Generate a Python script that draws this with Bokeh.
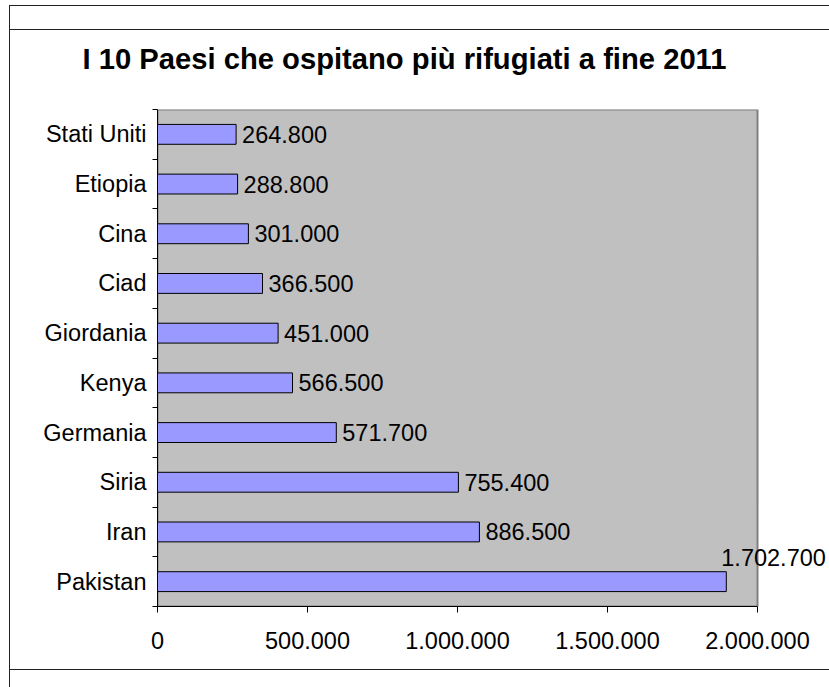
from bokeh.plotting import figure
from bokeh.models import ColumnDataSource, FixedTicker, LabelSet, Range1d, Title
from bokeh.core.properties import value
from bokeh.embed import file_html
from bokeh.resources import INLINE

# ---- data (bottom to top, as in the chart) ----
countries = ["Pakistan", "Iran", "Siria", "Germania", "Kenya",
             "Giordania", "Ciad", "Cina", "Etiopia", "Stati Uniti"]
bar_values = [1896000, 1073000, 1003000, 596000, 450000,
              402000, 350000, 303000, 267000, 262000]
value_labels = ["1.702.700", "886.500", "755.400", "571.700", "566.500",
                "451.000", "366.500", "301.000", "288.800", "264.800"]
x_ticks = [0, 500000, 1000000, 1500000, 2000000]
x_tick_labels = ["0", "500.000", "1.000.000", "1.500.000", "2.000.000"]
title_text = "I 10 Paesi che ospitano più rifugiati a fine 2011"

FONT = "Liberation Sans"
FS = "23.5px"

# ---- layout constants (pixels) ----
W, H = 829, 687
AREA_L, AREA_R, AREA_T, AREA_B = 157, 757, 109, 606   # grey plot area
X_MAX = x_ticks[-1]
# frame is extended to the right edge so the outside value label is not clipped
X_END = X_MAX * (W - AREA_L) / (AREA_R - AREA_L)
n = len(countries)

p = figure(width=W, height=H, output_backend="svg", toolbar_location=None,
           x_range=Range1d(0, X_END), y_range=Range1d(-0.5, n - 0.5),
           min_border_left=AREA_L, min_border_right=0,
           min_border_top=AREA_T, min_border_bottom=H - AREA_B)

p.background_fill_color = None
p.border_fill_color = None
p.outline_line_color = None
p.xgrid.grid_line_color = None
p.ygrid.grid_line_color = None

# page border lines drawn as CSS background layers behind the transparent canvas
line = "linear-gradient(#222,#222)"
p.styles = {
    "background": ", ".join([
        f"{line} 9px 5px / 100% 1px no-repeat",
        f"{line} 9px 29px / 100% 1px no-repeat",
        f"{line} 9px 669px / 100% 1px no-repeat",
        f"{line} 9px 5px / 1px 100% no-repeat",
    ]) + ", white",
}

# grey plot area
p.quad(left=[0], right=[X_MAX], bottom=[-0.5], top=[n - 0.5],
       fill_color="#C0C0C0", line_color="#808080", line_width=2)

ypos = list(range(n))

# y axis: labels at centres, tick marks at category boundaries
yax = p.yaxis[0]
yax.ticker = FixedTicker(ticks=ypos, minor_ticks=[i - 0.5 for i in range(n + 1)])
yax.major_label_overrides = {i: c for i, c in enumerate(countries)}
yax.major_tick_line_color = None
yax.major_tick_out = 0
yax.major_tick_in = 0
yax.minor_tick_line_color = "black"
yax.minor_tick_out = 5
yax.minor_tick_in = 0
yax.axis_line_color = "black"
yax.major_label_standoff = 6
yax.major_label_text_font = FONT
yax.major_label_text_font_size = FS
yax.major_label_text_color = "black"

xax = p.xaxis[0]
xax.bounds = (0, X_MAX)
xax.ticker = FixedTicker(ticks=x_ticks)
xax.major_label_overrides = {t: l for t, l in zip(x_ticks, x_tick_labels)}
xax.major_tick_line_color = "black"
xax.major_tick_out = 6
xax.major_tick_in = 0
xax.minor_tick_line_color = None
xax.axis_line_color = "black"
xax.major_label_standoff = 19
xax.major_label_text_font = FONT
xax.major_label_text_font_size = FS
xax.major_label_text_color = "black"

src = ColumnDataSource(dict(y=ypos, value=bar_values, label=value_labels))
p.hbar(y="y", left=0, right="value", height=0.4, source=src,
       fill_color="#9999FF", line_color="black", line_width=1)

# value labels: right of bar, or above it when the bar nearly fills the axis
inside = [i for i, v in enumerate(bar_values) if v < 0.85 * X_MAX]
above = [i for i, v in enumerate(bar_values) if v >= 0.85 * X_MAX]

src_in = ColumnDataSource(dict(x=[bar_values[i] for i in inside],
                               y=[ypos[i] for i in inside],
                               t=[value_labels[i] for i in inside]))
p.add_layout(LabelSet(x="x", y="y", text="t", source=src_in, x_offset=6,
                      text_baseline="middle", text_align="left",
                      text_font=value(FONT), text_font_size=FS, text_color="black"))
src_up = ColumnDataSource(dict(x=[bar_values[i] for i in above],
                               y=[ypos[i] for i in above],
                               t=[value_labels[i] for i in above]))
p.add_layout(LabelSet(x="x", y="y", text="t", source=src_up, x_offset=-5, y_offset=24,
                      text_baseline="middle", text_align="left",
                      text_font=value(FONT), text_font_size=FS, text_color="black"))

# title
p.add_layout(Title(text=title_text, align="left", offset=82 - AREA_L, standoff=69,
                   text_font=FONT, text_font_size="29.2px", text_font_style="bold",
                   text_color="black"), "above")

open("out.html", "w").write(file_html(p, INLINE))
